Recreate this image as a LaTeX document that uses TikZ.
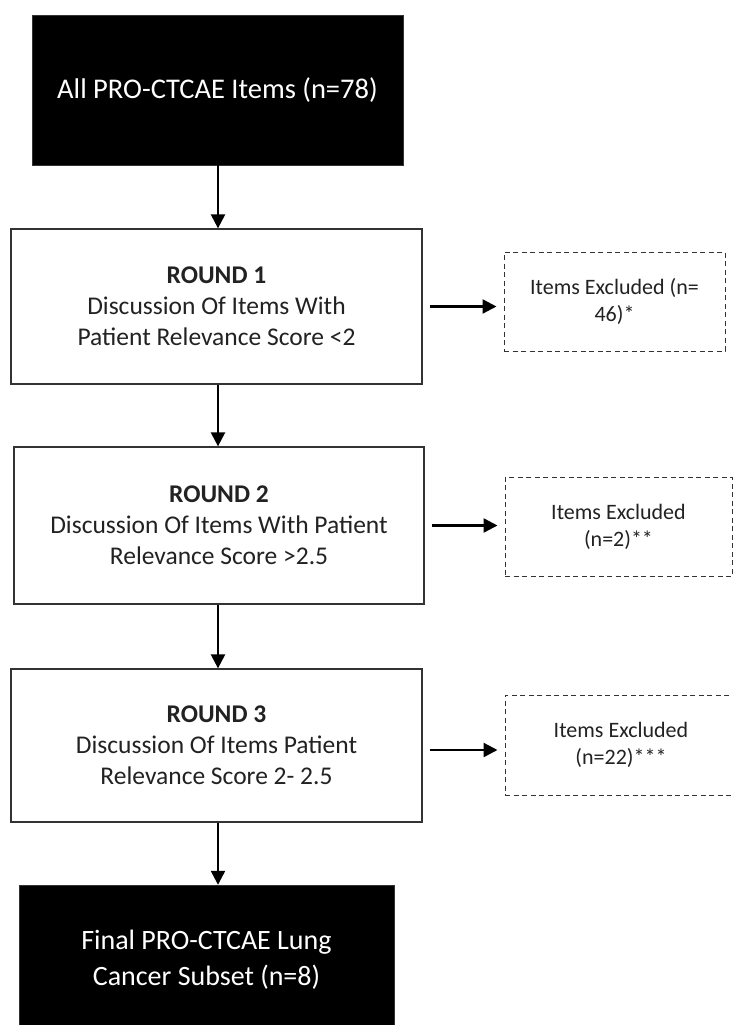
\documentclass[tikz,border=0pt]{standalone}
\usepackage{fontspec}
\setmainfont{Carlito}
\usetikzlibrary{arrows.meta}
\definecolor{txt}{HTML}{222222}
\begin{document}
\begin{tikzpicture}[x=1pt,y=-1pt,
  blackbox/.style={draw=black!80,fill=black,text=white,align=center,inner sep=0pt},
  roundbox/.style={draw=black!80,line width=1.3pt,fill=white,text=txt,align=center,inner sep=0pt,font=\fontsize{25.5}{31}\selectfont},
  exclbox/.style={draw=black!80,line width=1pt,dash pattern=on 5pt off 3.5pt,text=txt,align=center,inner sep=0pt,font=\fontsize{22}{27}\selectfont},
  arr/.style={line width=2.4pt,-{Triangle[length=14pt,width=14pt]}}]
\useasboundingbox (0,0) rectangle (733,1025);
\fill[white] (0,0) rectangle (733,1025);
\begin{scope}
\clip (0,0) rectangle (733,1025);
\node[blackbox,minimum width=371pt,minimum height=150pt,font=\fontsize{28.5}{34}\selectfont] (top) at (217.5,90) {All PRO-CTCAE Items (n=78)};
\node[roundbox,minimum width=411pt,minimum height=155pt] (r1) at (216.5,306.5) {\textbf{ROUND 1}\\Discussion Of Items With\\Patient Relevance Score <2};
\node[roundbox,minimum width=410pt,minimum height=157pt] (r2) at (219,525.5) {\textbf{ROUND 2}\\Discussion Of Items With Patient\\Relevance Score >2.5};
\node[roundbox,minimum width=411pt,minimum height=153pt] (r3) at (216.5,745.5) {\textbf{ROUND 3}\\Discussion Of Items Patient\\Relevance Score 2- 2.5};
\node[blackbox,minimum width=375pt,minimum height=150pt,font=\fontsize{28}{36}\selectfont] (fin) at (206.5,960) {Final PRO-CTCAE Lung\\Cancer Subset (n=8)};
\node[exclbox,minimum width=221pt,minimum height=99pt] (d1) at (614.5,301.5) {Items Excluded (n=\\46)*};
\node[exclbox,minimum width=227pt,minimum height=99pt] (d2) at (618.5,526.5) {Items Excluded\\(n=2)**};
\node[exclbox,minimum width=232pt,minimum height=100pt] (d3) at (621,745) {Items Excluded\\(n=22)***};
\end{scope}
\coordinate (a3) at ([yshift=-4.5pt]r3.east);
\draw[arr] (top.south -| 218,0) -- (r1.north -| 218,0);
\draw[arr] (r1.south -| 218,0) -- (r2.north -| 218,0);
\draw[arr] (r2.south -| 218,0) -- (r3.north -| 218,0);
\draw[arr] (r3.south -| 218,0) -- (fin.north -| 218,0);
\draw[arr,shorten <=7pt,shorten >=7pt] (r1.east) -- (r1.east -| d1.west);
\draw[arr,shorten <=7pt,shorten >=7pt] (r2.east) -- (r2.east -| d2.west);
\draw[arr,shorten <=7pt,shorten >=7pt] (a3) -- (a3 -| d3.west);
\end{tikzpicture}
\end{document}
